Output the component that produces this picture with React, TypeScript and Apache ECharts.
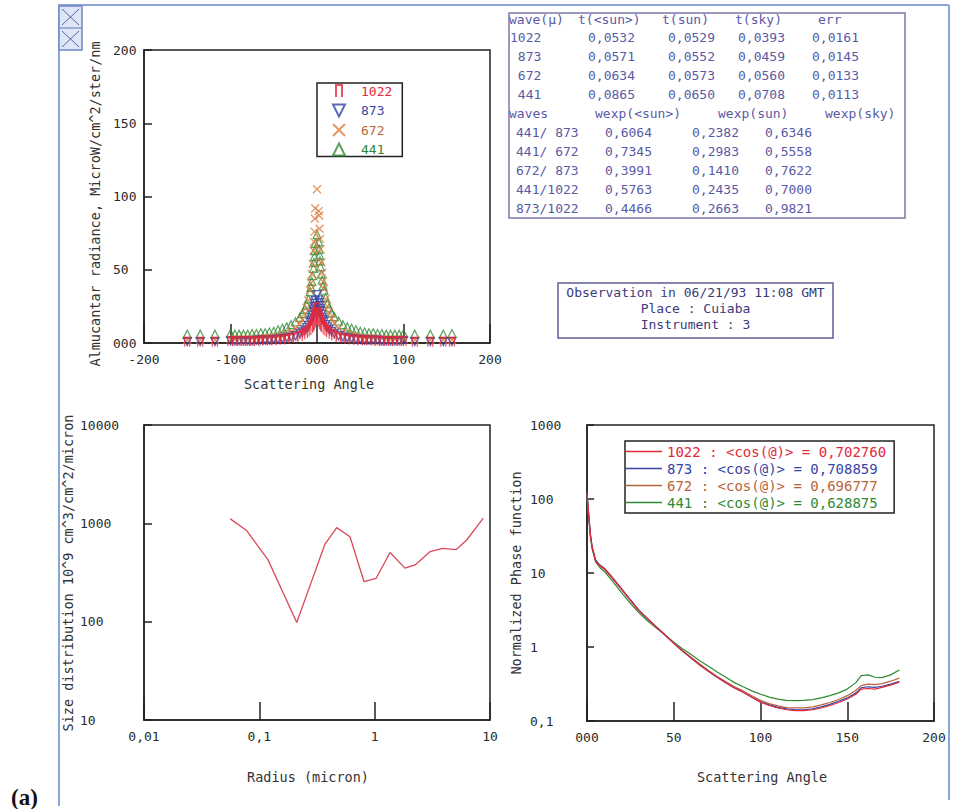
import React, { useEffect, useRef } from 'react';
import * as echarts from 'echarts';

// ---------- Almucantar radiance (top-left) ----------
const scatterAngles = [-150, -135, -118, -100, -95, -90, -85, -80, -75, -70, -65, -60, -55, -50, -45, -40, -35, -30, -25, -20, -17, -14, -12, -10, -8, -7, -6, -5, -4, -3.5, -3, -2.5, -2, 0, 2, 2.5, 3, 3.5, 4, 5, 6, 7, 8, 10, 12, 14, 17, 20, 25, 30, 35, 40, 45, 50, 55, 60, 65, 70, 75, 80, 85, 90, 95, 100, 113, 131, 146, 156];
const rad441 = [6, 6, 6, 6.5, 6, 6, 6, 6, 6.5, 6.5, 7, 7, 7.5, 8, 9, 10, 11, 12.5, 14.5, 17.5, 20, 23, 26, 30, 35, 38, 42, 46, 51, 55, 59, 63, 68, 74, 69, 64, 60, 56, 52, 47, 43, 39, 36, 31, 27, 24, 20.5, 18, 15, 12.5, 11, 10, 9, 8, 7.5, 7, 7, 6.5, 6.5, 6, 6, 6, 6, 6.5, 6, 6, 6, 6.5];
const rad672 = [2, 2, 2, 2.5, 2.5, 2.5, 2.5, 2.5, 3, 3, 3, 3.5, 3.5, 4, 4.5, 5, 6, 7.5, 9.5, 13, 16, 20, 24, 29, 36, 41, 47, 54, 63, 69, 76, 85, 92, 105, 90, 87, 78, 71, 64, 55, 48, 42, 37, 30, 25, 21, 16.5, 13.5, 10, 7.5, 6, 5, 4.5, 4, 3.5, 3.5, 3, 3, 3, 2.5, 2.5, 2.5, 2.5, 2.5, 2, 2, 2, 2];
const rad873 = [1, 1, 1, 1.5, 1.5, 1.5, 1.5, 1.5, 1.5, 2, 2, 2, 2, 2.5, 2.5, 3, 3.5, 4, 5, 6.5, 7.5, 9, 10.5, 12, 14, 15.5, 17, 19, 21.5, 23, 25, 27, 29, 33, 29.5, 27.5, 25.5, 23.5, 22, 19.5, 17.5, 16, 14.5, 12.5, 11, 9.5, 8, 6.5, 5, 4, 3.5, 3, 2.5, 2.5, 2, 2, 2, 2, 1.5, 1.5, 1.5, 1.5, 1.5, 1.5, 1, 1, 1, 1];
const rad1022 = [0.5, 0.5, 0.5, 1, 1, 1, 1, 1, 1, 1, 1.5, 1.5, 1.5, 1.5, 2, 2, 2.5, 3, 3.5, 4.5, 5.5, 6.5, 7.5, 8.5, 10, 11, 12, 13.5, 15, 16, 17.5, 19, 20.5, 24, 21, 19.5, 18, 16.5, 15.5, 14, 12.5, 11.5, 10.5, 9, 8, 7, 6, 5, 3.5, 3, 2.5, 2, 2, 1.5, 1.5, 1.5, 1.5, 1, 1, 1, 1, 1, 1, 1, 0.5, 0.5, 0.5, 0.5];

// ---------- Size distribution (bottom-left) ----------
const radiusMicron = [0.056, 0.078, 0.119, 0.211, 0.371, 0.469, 0.611, 0.809, 1.03, 1.36, 1.83, 2.24, 3.02, 3.87, 5.07, 6.28, 8.75];
const sizeDist = [1110, 840, 425, 98, 615, 905, 730, 255, 276, 505, 350, 377, 515, 557, 540, 677, 1130];

// ---------- Phase function (bottom-right) ----------
const phaseAngles = [0, 1, 2, 3, 5, 7.5, 10, 15, 20, 25, 30, 35, 40, 45, 50, 55, 60, 65, 70, 75, 80, 85, 90, 95, 100, 105, 110, 115, 120, 125, 130, 135, 140, 145, 150, 155, 158, 162, 166, 170, 175, 180];
const phase1022 = [120, 60, 32, 22, 14.5, 12.5, 11.5, 8.4, 6.0, 4.3, 3.1, 2.4, 1.85, 1.45, 1.12, 0.88, 0.71, 0.57, 0.47, 0.39, 0.33, 0.28, 0.245, 0.21, 0.18, 0.162, 0.15, 0.142, 0.138, 0.138, 0.142, 0.15, 0.162, 0.178, 0.198, 0.23, 0.27, 0.275, 0.27, 0.285, 0.305, 0.335];
const phase873 = [125, 62, 33, 22.5, 15, 12.8, 11.6, 8.5, 6.1, 4.35, 3.15, 2.42, 1.86, 1.45, 1.12, 0.88, 0.71, 0.57, 0.47, 0.39, 0.33, 0.28, 0.245, 0.21, 0.182, 0.165, 0.153, 0.146, 0.142, 0.142, 0.146, 0.155, 0.168, 0.185, 0.205, 0.24, 0.28, 0.29, 0.285, 0.295, 0.315, 0.345];
const phase672 = [115, 58, 31, 21.5, 14.2, 12.2, 11.2, 8.2, 5.9, 4.25, 3.08, 2.4, 1.86, 1.46, 1.14, 0.9, 0.73, 0.59, 0.48, 0.4, 0.34, 0.29, 0.255, 0.22, 0.19, 0.172, 0.16, 0.152, 0.15, 0.15, 0.155, 0.165, 0.178, 0.195, 0.22, 0.26, 0.3, 0.315, 0.31, 0.32, 0.345, 0.38];
const phase441 = [100, 55, 30, 21, 14, 11.8, 10.5, 7.6, 5.4, 3.9, 2.9, 2.25, 1.8, 1.45, 1.16, 0.95, 0.79, 0.65, 0.55, 0.46, 0.39, 0.33, 0.29, 0.255, 0.23, 0.21, 0.198, 0.19, 0.188, 0.19, 0.195, 0.205, 0.22, 0.24, 0.27, 0.33, 0.41, 0.42, 0.39, 0.385, 0.42, 0.49];
const phaseLegend = ['1022 : <cos(@)> = 0,702760', '873 : <cos(@)> = 0,708859', '672 : <cos(@)> = 0,696777', '441 : <cos(@)> = 0,628875'];

// ---------- Table (top-right) ----------
const tableHead1 = ['wave(µ)', 't(<sun>)', 't(sun)', 't(sky)', 'err'];
const waveLabels = ['1022', ' 873', ' 672', ' 441'];
const tSunMean = ['0,0532', '0,0571', '0,0634', '0,0865'];
const tSun = ['0,0529', '0,0552', '0,0573', '0,0650'];
const tSky = ['0,0393', '0,0459', '0,0560', '0,0708'];
const tErr = ['0,0161', '0,0145', '0,0133', '0,0113'];
const tableHead2 = ['waves', 'wexp(<sun>)', 'wexp(sun)', 'wexp(sky)'];
const wavePairs = ['441/ 873', '441/ 672', '672/ 873', '441/1022', '873/1022'];
const wexpSunMean = ['0,6064', '0,7345', '0,3991', '0,5763', '0,4466'];
const wexpSun = ['0,2382', '0,2983', '0,1410', '0,2435', '0,2663'];
const wexpSky = ['0,6346', '0,5558', '0,7622', '0,7000', '0,9821'];
const obsLines = ['Observation in 06/21/93 11:08 GMT', 'Place : Cuiaba', 'Instrument : 3'];

const MONO = '"DejaVu Sans Mono", monospace';
const RED = '#e5283a';
const BLUE = '#3645a6';
const ORANGE = '#e07a3c';
const BROWN = '#b8643a';
const GREEN = '#2f8a33';
const AXIS = '#222';
const TABLE_C = '#5a5aa6';

const fmtComma = (v: number) => String(parseFloat(Number(v).toPrecision(8))).replace('.', ',');
const fmtZero = (v: number) => (v === 0 ? '000' : String(v));

function buildOption() {
  const lbl = { fontFamily: MONO, fontSize: 13, color: '#2a2a2a' };
  const axLine = { show: true, onZero: false, lineStyle: { color: AXIS, width: 1.5 } };
  const tick = (len: number) => ({ show: true, inside: true, length: len, lineStyle: { color: AXIS, width: 1.5 } });
  const gridBox = { show: true, borderColor: AXIS, borderWidth: 1.5, backgroundColor: 'transparent' };

  const txt = (x: number, y: number, text: string, fill: string, size = 13, align = 'left', extra: any = {}) => ({
    type: 'text', x, y, ...extra,
    style: { text, fill, fontFamily: MONO, fontSize: size, align, verticalAlign: 'middle' },
  });

  const graphics: any[] = [];
  // outer frame
  graphics.push({ type: 'line', shape: { x1: 59, y1: 5, x2: 59, y2: 806 }, style: { stroke: '#8aa5d9', lineWidth: 2 } });
  graphics.push({ type: 'line', shape: { x1: 58, y1: 5, x2: 949, y2: 5 }, style: { stroke: '#8aa5d9', lineWidth: 2 } });
  graphics.push({ type: 'line', shape: { x1: 949, y1: 5, x2: 949, y2: 800 }, style: { stroke: '#8aa5d9', lineWidth: 2 } });
  // icon
  graphics.push({ type: 'rect', shape: { x: 59, y: 6, width: 23, height: 44 }, style: { fill: '#dfe6f5', stroke: '#6f89c6', lineWidth: 1.5 } });
  graphics.push({ type: 'line', shape: { x1: 59, y1: 28, x2: 82, y2: 28 }, style: { stroke: '#6f89c6', lineWidth: 1.2 } });
  [[9, 25], [31, 47]].forEach(([a, b]) => {
    graphics.push({ type: 'line', shape: { x1: 62, y1: a, x2: 79, y2: b }, style: { stroke: '#4f69a6', lineWidth: 1 } });
    graphics.push({ type: 'line', shape: { x1: 79, y1: a, x2: 62, y2: b }, style: { stroke: '#4f69a6', lineWidth: 1 } });
  });

  // table
  graphics.push({ type: 'rect', shape: { x: 509, y: 13, width: 396, height: 205 }, style: { fill: 'none', stroke: '#7a7aa6', lineWidth: 1.5 } });
  const rowY = (i: number) => 19 + 18.9 * i;
  const h1x = [509, 578, 662, 735, 818];
  tableHead1.forEach((t, i) => graphics.push(txt(h1x[i], rowY(0), t, TABLE_C)));
  const d1x = [510, 588, 668, 738, 812];
  waveLabels.forEach((w, r) => {
    [w, tSunMean[r], tSun[r], tSky[r], tErr[r]].forEach((t, c) => graphics.push(txt(d1x[c], rowY(r + 1), t, TABLE_C)));
  });
  const h2x = [509, 595, 718, 825];
  tableHead2.forEach((t, i) => graphics.push(txt(h2x[i], rowY(5), t, TABLE_C)));
  const d2x = [516, 605, 692, 765];
  wavePairs.forEach((w, r) => {
    [w, wexpSunMean[r], wexpSun[r], wexpSky[r]].forEach((t, c) => graphics.push(txt(d2x[c], rowY(r + 6), t, TABLE_C)));
  });

  // observation box
  graphics.push({ type: 'rect', shape: { x: 558, y: 283, width: 275, height: 55 }, style: { fill: 'none', stroke: '#5e5e96', lineWidth: 1.5 } });
  obsLines.forEach((t, i) => graphics.push(txt(695.5, 292 + 16 * i, t, '#3a3a7a', 13, 'center')));

  // axis names
  graphics.push(txt(95, 204, 'Almucantar radiance, MicroW/cm^2/ster/nm', '#333', 13.5, 'center', { rotation: Math.PI / 2 }));
  graphics.push(txt(309, 384, 'Scattering Angle', '#333', 13.5, 'center'));
  graphics.push(txt(68, 573, 'Size distribution 10^9 cm^3/cm^2/micron', '#333', 13.5, 'center', { rotation: Math.PI / 2 }));
  graphics.push(txt(308, 777, 'Radius (micron)', '#333', 13.5, 'center'));
  graphics.push(txt(516, 573, 'Normalized Phase function', '#333', 13.5, 'center', { rotation: Math.PI / 2 }));
  graphics.push(txt(762, 777, 'Scattering Angle', '#333', 13.5, 'center'));
  graphics.push({ type: 'text', x: 11, y: 797, style: { text: '(a)', fill: '#111', fontFamily: '"Liberation Serif", serif', fontWeight: 'bold', fontSize: 23, align: 'left', verticalAlign: 'middle' } });

  const hollow = (c: string, w = 1.3) => ({ color: 'transparent', borderColor: c, borderWidth: w });
  const pairs = (xs: number[], ys: number[]) => xs.map((x, i) => [x, ys[i]]);

  const scatterSeries = [
    { name: '441', data: pairs(scatterAngles, rad441), symbol: 'triangle', symbolSize: [8, 8], itemStyle: hollow(GREEN, 1.2) },
    { name: '672', data: pairs(scatterAngles, rad672), symbol: 'path://M0,0L10,10M10,0L0,10', symbolSize: 8, itemStyle: hollow(ORANGE, 1.3) },
    { name: '873', data: pairs(scatterAngles, rad873), symbol: 'path://M0,0L10,0L5,10Z', symbolSize: 8, itemStyle: hollow(BLUE, 1.3) },
    { name: '1022', data: pairs(scatterAngles, rad1022), symbol: 'path://M0,12L0,0L6,0L6,12', symbolSize: [5, 9], itemStyle: hollow(RED, 1.6) },
  ].map((s) => ({ type: 'scatter', xAxisIndex: 0, yAxisIndex: 0, ...s }));

  const phaseColors = [RED, BLUE, BROWN, GREEN];
  const phaseData = [phase1022, phase873, phase672, phase441];
  const phaseSeries = [3, 2, 1, 0].map((i) => ({
    type: 'line', name: phaseLegend[i], xAxisIndex: 2, yAxisIndex: 2, symbol: 'none',
    data: pairs(phaseAngles, phaseData[i]),
    lineStyle: { color: phaseColors[i], width: 1.2 }, itemStyle: { color: phaseColors[i] },
  }));

  return {
    animation: false,
    backgroundColor: '#fff',
    grid: [
      { left: 144, top: 50, width: 346, height: 293, ...gridBox },
      { left: 144, top: 425, width: 346, height: 295, ...gridBox },
      { left: 587, top: 425, width: 347, height: 296, ...gridBox },
    ],
    xAxis: [
      { gridIndex: 0, type: 'value', min: -200, max: 200, interval: 100, axisLine: axLine, axisTick: tick(19), splitLine: { show: false }, axisLabel: { ...lbl, margin: 10, formatter: fmtZero } },
      { gridIndex: 1, type: 'log', logBase: 10, min: 0.01, max: 10, axisLine: axLine, axisTick: tick(18), splitLine: { show: false }, minorTick: { show: false }, axisLabel: { ...lbl, margin: 10, formatter: fmtComma } },
      { gridIndex: 2, type: 'value', min: 0, max: 200, interval: 50, axisLine: axLine, axisTick: tick(19), splitLine: { show: false }, axisLabel: { ...lbl, margin: 10, formatter: fmtZero } },
    ],
    yAxis: [
      { gridIndex: 0, type: 'value', min: 0, max: 200, interval: 50, axisLine: axLine, axisTick: tick(8), splitLine: { show: false }, axisLabel: { ...lbl, align: 'left', margin: 31, formatter: fmtZero } },
      { gridIndex: 1, type: 'log', logBase: 10, min: 10, max: 10000, axisLine: axLine, axisTick: tick(8), splitLine: { show: false }, axisLabel: { ...lbl, align: 'left', margin: 64, formatter: fmtComma } },
      { gridIndex: 2, type: 'log', logBase: 10, min: 0.1, max: 1000, axisLine: axLine, axisTick: tick(7), splitLine: { show: false }, axisLabel: { ...lbl, align: 'left', margin: 57, formatter: fmtComma } },
    ],
    legend: [
      {
        orient: 'vertical', left: 317, top: 83, padding: [1, 10, 0, 15], itemWidth: 12, itemHeight: 12, itemGap: 5.5,
        borderColor: AXIS, borderWidth: 1.5, selectedMode: false,
        textStyle: { fontFamily: MONO, fontSize: 13, lineHeight: 13, padding: [0, 0, 0, 11] },
        data: [
          { name: '1022', textStyle: { color: RED } },
          { name: '873', textStyle: { color: BLUE } },
          { name: '672', textStyle: { color: BROWN } },
          { name: '441', textStyle: { color: GREEN } },
        ],
      },
      {
        orient: 'vertical', left: 625, top: 441, padding: [3, 8, 3, 0], itemWidth: 37, itemHeight: 1.5, itemGap: 2, icon: 'rect',
        borderColor: AXIS, borderWidth: 1.5, selectedMode: false,
        textStyle: { fontFamily: MONO, fontSize: 14, lineHeight: 15 },
        data: phaseLegend.map((n, i) => ({ name: n, textStyle: { color: phaseColors[i] } })),
      },
    ],
    series: [
      ...scatterSeries,
      { type: 'line', name: 'size distribution', xAxisIndex: 1, yAxisIndex: 1, symbol: 'none', data: pairs(radiusMicron, sizeDist), lineStyle: { color: '#d84a5a', width: 1.3 } },
      ...phaseSeries,
    ],
    graphic: graphics,
  };
}

export default function App() {
  const ref = useRef<HTMLDivElement>(null);
  useEffect(() => {
    if (!ref.current) return;
    const chart = echarts.init(ref.current, null, { renderer: 'svg' });
    chart.setOption(buildOption() as any);
    return () => chart.dispose();
  }, []);
  return <div ref={ref} style={{ position: 'fixed', left: 0, top: 0, width: 954, height: 809, background: '#fff' }} />;
}
